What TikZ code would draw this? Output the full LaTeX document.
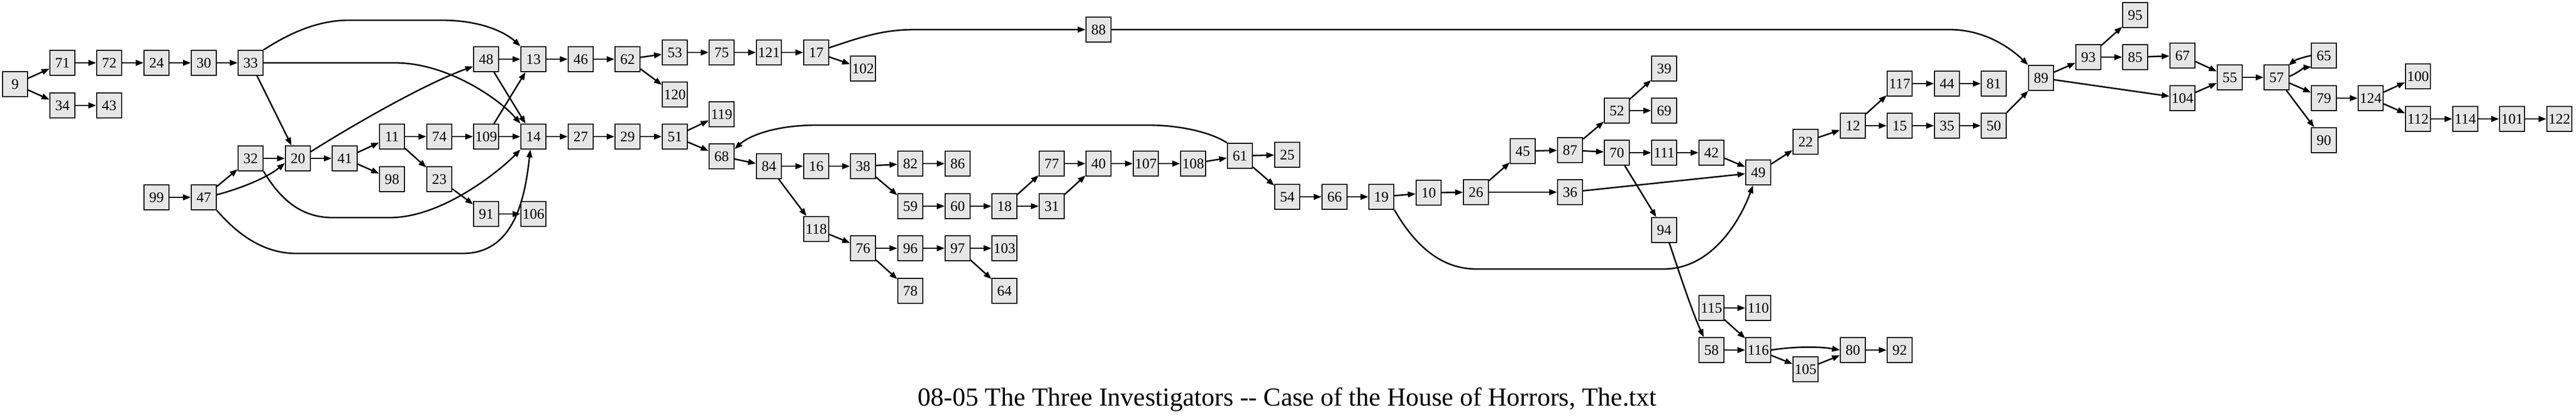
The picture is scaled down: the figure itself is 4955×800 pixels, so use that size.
\documentclass[tikz,border=0pt]{standalone}
\usepackage{fontspec}
\setmainfont{Liberation Serif}
\usetikzlibrary{arrows.meta,calc}
\definecolor{boxgray}{HTML}{E6E6E6}
\tikzset{
  bx/.style={draw=black, line width=1pt, fill=boxgray, minimum width=24pt, minimum height=24pt, inner sep=0pt, font=\fontsize{14}{14}\selectfont},
  arr/.style={-{Triangle[length=7.5pt,width=5.5pt]}, line width=1.4pt},
  ttl/.style={font=\fontsize{25}{30}\selectfont, anchor=base, inner sep=0pt}
}
\begin{document}
\begin{tikzpicture}[x=0.5pt,y=-0.5pt]
\useasboundingbox (0,0) rectangle (4955,800);
% nodes
\node[bx] (n9) at (29,162) {9};
\node[bx] (n71) at (120,121) {71};
\node[bx] (n34) at (120,203) {34};
\node[bx] (n72) at (210,121) {72};
\node[bx] (n43) at (210,203) {43};
\node[bx] (n24) at (301,121) {24};
\node[bx] (n99) at (301,380) {99};
\node[bx] (n30) at (392,121) {30};
\node[bx] (n47) at (392,380) {47};
\node[bx] (n33) at (482,121) {33};
\node[bx] (n32) at (482,305) {32};
\node[bx] (n20) at (573,305) {20};
\node[bx] (n41) at (663,305) {41};
\node[bx] (n11) at (754,263) {11};
\node[bx] (n98) at (754,345) {98};
\node[bx] (n74) at (845,263) {74};
\node[bx] (n23) at (845,345) {23};
\node[bx] (n48) at (935,114) {48};
\node[bx] (n109) at (935,263) {109};
\node[bx] (n91) at (935,412) {91};
\node[bx] (n13) at (1026,114) {13};
\node[bx] (n14) at (1026,263) {14};
\node[bx] (n106) at (1026,412) {106};
\node[bx] (n46) at (1117,114) {46};
\node[bx] (n27) at (1117,263) {27};
\node[bx] (n62) at (1207,114) {62};
\node[bx] (n29) at (1207,263) {29};
\node[bx] (n53) at (1298,101) {53};
\node[bx] (n120) at (1298,182) {120};
\node[bx] (n51) at (1298,263) {51};
\node[bx] (n75) at (1388,101) {75};
\node[bx] (n119) at (1388,220) {119};
\node[bx] (n68) at (1388,301) {68};
\node[bx] (n121) at (1479,101) {121};
\node[bx] (n84) at (1479,320) {84};
\node[bx] (n17) at (1570,101) {17};
\node[bx] (n16) at (1570,320) {16};
\node[bx] (n118) at (1570,441) {118};
\node[bx] (n102) at (1660,132) {102};
\node[bx] (n38) at (1660,320) {38};
\node[bx] (n76) at (1660,478) {76};
\node[bx] (n82) at (1751,315) {82};
\node[bx] (n59) at (1751,397) {59};
\node[bx] (n96) at (1751,478) {96};
\node[bx] (n78) at (1751,560) {78};
\node[bx] (n86) at (1842,315) {86};
\node[bx] (n60) at (1842,397) {60};
\node[bx] (n97) at (1842,478) {97};
\node[bx] (n64) at (1932,560) {64};
\node[bx] (n18) at (1932,397) {18};
\node[bx] (n103) at (1932,478) {103};
\node[bx] (n77) at (2023,315) {77};
\node[bx] (n31) at (2023,397) {31};
\node[bx] (n40) at (2113,315) {40};
\node[bx] (n88) at (2113,57) {88};
\node[bx] (n107) at (2204,315) {107};
\node[bx] (n108) at (2295,315) {108};
\node[bx] (n61) at (2385,300) {61};
\node[bx] (n25) at (2476,298) {25};
\node[bx] (n54) at (2476,379) {54};
\node[bx] (n66) at (2567,379) {66};
\node[bx] (n19) at (2657,379) {19};
\node[bx] (n10) at (2748,371) {10};
\node[bx] (n26) at (2839,370) {26};
\node[bx] (n45) at (2929,291) {45};
\node[bx] (n87) at (3020,289) {87};
\node[bx] (n36) at (3020,370) {36};
\node[bx] (n52) at (3110,213) {52};
\node[bx] (n70) at (3110,294) {70};
\node[bx] (n39) at (3201,132) {39};
\node[bx] (n69) at (3201,213) {69};
\node[bx] (n111) at (3201,294) {111};
\node[bx] (n94) at (3201,443) {94};
\node[bx] (n42) at (3292,294) {42};
\node[bx] (n115) at (3292,593) {115};
\node[bx] (n58) at (3292,674) {58};
\node[bx] (n49) at (3382,332) {49};
\node[bx] (n110) at (3382,593) {110};
\node[bx] (n116) at (3382,674) {116};
\node[bx] (n22) at (3473,273) {22};
\node[bx] (n105) at (3473,711) {105};
\node[bx] (n12) at (3564,242) {12};
\node[bx] (n80) at (3564,674) {80};
\node[bx] (n117) at (3654,161) {117};
\node[bx] (n15) at (3654,242) {15};
\node[bx] (n92) at (3654,674) {92};
\node[bx] (n44) at (3745,161) {44};
\node[bx] (n35) at (3745,242) {35};
\node[bx] (n81) at (3835,161) {81};
\node[bx] (n50) at (3835,242) {50};
\node[bx] (n89) at (3926,150) {89};
\node[bx] (n93) at (4017,110) {93};
\node[bx] (n95) at (4107,29) {95};
\node[bx] (n85) at (4107,110) {85};
\node[bx] (n67) at (4198,107) {67};
\node[bx] (n104) at (4198,189) {104};
\node[bx] (n55) at (4289,149) {55};
\node[bx] (n57) at (4379,149) {57};
\node[bx] (n65) at (4470,107) {65};
\node[bx] (n79) at (4470,189) {79};
\node[bx] (n90) at (4470,270) {90};
\node[bx] (n124) at (4560,189) {124};
\node[bx] (n100) at (4651,147) {100};
\node[bx] (n112) at (4651,229) {112};
\node[bx] (n114) at (4742,229) {114};
\node[bx] (n101) at (4832,229) {101};
\node[bx] (n122) at (4923,229) {122};
% straight edges
\foreach \a/\b in {9/71,9/34,71/72,72/24,24/30,30/33,34/43,33/20,99/47,47/32,32/20,
  20/41,41/11,41/98,11/74,11/23,74/109,23/91,109/13,109/14,48/13,48/14,91/106,
  13/46,46/62,62/53,62/120,14/27,27/29,29/51,51/119,51/68,53/75,75/121,121/17,
  17/102,68/84,84/16,84/118,16/38,38/82,38/59,82/86,59/60,60/18,18/77,18/31,
  77/40,31/40,40/107,107/108,108/61,61/25,61/54,118/76,76/96,76/78,96/97,97/103,
  97/64,54/66,66/19,19/10,10/26,26/45,26/36,45/87,87/52,87/70,52/39,52/69,
  70/111,70/94,111/42,42/49,36/49,49/22,22/12,12/117,12/15,117/44,44/81,15/35,
  35/50,50/89,89/93,89/104,93/95,93/85,85/67,67/55,104/55,55/57,57/79,57/90,
  79/124,124/100,124/112,112/114,114/101,101/122,115/110,115/116,58/116,
  116/105,105/80,80/92}
  \draw[arr] (n\a) -- (n\b);
% curved edges
\draw[arr] (n33.north east) .. controls (540,75) and (600,39) .. (670,39) -- (850,39) .. controls (930,39) and (975,65) .. (n13.north west);
\draw[arr] (n33.east) -- (760,121) .. controls (860,121) and (960,190) .. (n14.north west);
\draw[arr] (n32.south east) .. controls (540,385) and (580,419) .. (640,419) -- (750,419) .. controls (850,419) and (960,330) .. (n14.south west);
\draw[arr] (n47.south east) .. controls (460,455) and (510,488) .. (570,488) -- (890,488) .. controls (990,488) and (1010,380) .. ($(n14.south)+(-6,0)$);
\draw[arr] ($(n47.east)+(0,-5)$) .. controls (455,365) and (510,345) .. ($(n20.west)+(0,9)$);
\draw[arr] ($(n20.east)+(0,-13)$) .. controls (680,240) and (820,160) .. ($(n48.west)+(0,14)$);
\draw[arr] (n61.north west) .. controls (2330,255) and (2270,241) .. (2210,241) -- (1570,241) .. controls (1490,241) and (1440,262) .. ($(n68.east)+(0,-14)$);
\draw[arr] ($(n17.east)+(0,-9)$) .. controls (1660,70) and (1700,57) .. (1760,57) -- (n88.west);
\draw[arr] (n88.east) -- (3750,57) .. controls (3820,57) and (3870,95) .. (n89.north west);
\draw[arr] (n19.south east) .. controls (2720,470) and (2770,518) .. (2840,518) -- (3200,518) .. controls (3290,518) and (3345,430) .. ($(n49.south)+(-10,0)$);
\draw[arr] ($(n94.south)+(10,0)$) .. controls (3235,540) and (3255,600) .. ($(n58.north)+(-15,0)$);
\draw[arr] (n116.east) .. controls (3450,667) and (3500,667) .. (n80.west);
\draw[arr] ($(n57.east)+(0,-2)$) .. controls (4420,140) and (4432,130) .. ($(n65.south west)+(1,-3)$);
\draw[arr] (n65.west) .. controls (4430,110) and (4414,116) .. ($(n57.north east)+(-2,2)$);
% title
\node[ttl] (title) at (2476,781) {08-05 The Three Investigators -{}- Case of the House of Horrors, The.txt};
\end{tikzpicture}
\end{document}
